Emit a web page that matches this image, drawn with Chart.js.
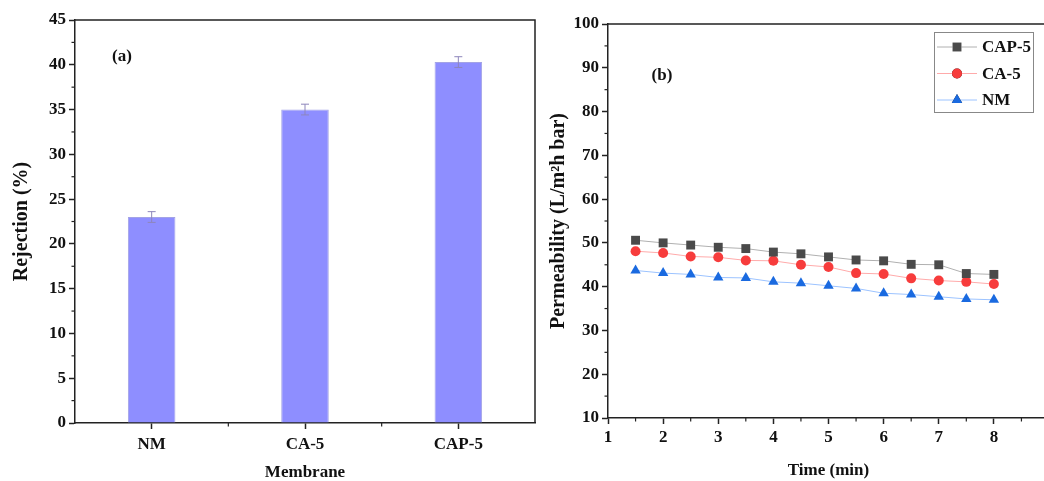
<!DOCTYPE html>
<html>
<head>
<meta charset="utf-8">
<script src="https://cdn.jsdelivr.net/npm/chart.js@4.4.1/dist/chart.umd.min.js"></script>
<style>
  html, body { margin: 0; padding: 0; background: #fff; overflow: hidden; width: 1044px; height: 481px; }
  #left { position: absolute; left: 0; top: 0; }
  #right { position: absolute; left: 545px; top: 0; }
</style>
</head>
<body>
<canvas id="left" width="545" height="481"></canvas>
<canvas id="right" width="530" height="481"></canvas>
<script>
// ---------------- DATA ----------------
const membranes = ["NM", "CA-5", "CAP-5"];
const rejection = [23.0, 35.0, 40.3];
const rejectionErr = [0.6, 0.6, 0.6];

const timeMin = [1.5, 2, 2.5, 3, 3.5, 4, 4.5, 5, 5.5, 6, 6.5, 7, 7.5, 8];
const permCAP5 = [50.6, 50.0, 49.5, 49.0, 48.7, 47.9, 47.5, 46.8, 46.1, 45.9, 45.1, 45.0, 43.0, 42.8];
const permCA5 = [48.1, 47.7, 46.9, 46.7, 46.0, 45.9, 45.0, 44.5, 43.1, 42.9, 41.9, 41.4, 41.1, 40.6];
const permNM = [43.7, 43.1, 42.8, 42.1, 42.0, 41.1, 40.8, 40.2, 39.6, 38.5, 38.2, 37.7, 37.2, 37.0];

const FONT = "'Liberation Serif', 'Times New Roman', serif";
const AXIS = "#222";
const tickFont = { family: FONT, size: 17, weight: "bold" };
const titleFont = { family: FONT, size: 17, weight: "bold", lineHeight: 1 };
const yTitleFont = { family: FONT, size: 20, weight: "bold", lineHeight: 1 };

// ---------------- SHARED PLUGIN: frame, minor ticks, panel label ----------------
const framePlugin = {
    id: "frame",
    afterDraw(chart, args, opts) {
        const { ctx, chartArea: a } = chart;
        ctx.save();
        ctx.strokeStyle = AXIS;
        ctx.lineWidth = 1.5;
        ctx.beginPath();
        ctx.moveTo(a.left, a.top);
        ctx.lineTo(a.right, a.top);
        ctx.lineTo(a.right, a.bottom);
        ctx.stroke();

        // minor ticks
        ctx.lineWidth = 1.2;
        (opts.yMinor || []).forEach(v => {
            const y = chart.scales.y.getPixelForValue(v);
            ctx.beginPath();
            ctx.moveTo(a.left - 3.5, y);
            ctx.lineTo(a.left, y);
            ctx.stroke();
        });
        (opts.xMinor || []).forEach(v => {
            const x = chart.scales.x.getPixelForValue(v);
            ctx.beginPath();
            ctx.moveTo(x, a.bottom);
            ctx.lineTo(x, a.bottom + 3.5);
            ctx.stroke();
        });

        // panel label
        ctx.fillStyle = "#111";
        ctx.font = "bold 17px " + FONT;
        ctx.textAlign = "center";
        ctx.textBaseline = "middle";
        ctx.fillText(opts.label, a.left + opts.labelX, a.top + opts.labelY);
        ctx.restore();
    }
};

// ---------------- ERROR BARS ----------------
const errorBarPlugin = {
    id: "errorBars",
    afterDatasetsDraw(chart) {
        const { ctx } = chart;
        const meta = chart.getDatasetMeta(0);
        const y = chart.scales.y;
        ctx.save();
        ctx.strokeStyle = "#8d86bb";
        ctx.lineWidth = 1;
        meta.data.forEach((bar, i) => {
            const top = y.getPixelForValue(rejection[i] + rejectionErr[i]);
            const bot = y.getPixelForValue(rejection[i] - rejectionErr[i]);
            ctx.beginPath();
            ctx.moveTo(bar.x, top); ctx.lineTo(bar.x, bot);
            ctx.moveTo(bar.x - 4, top); ctx.lineTo(bar.x + 4, top);
            ctx.moveTo(bar.x - 4, bot); ctx.lineTo(bar.x + 4, bot);
            ctx.stroke();
        });
        ctx.restore();
    }
};

// ---------------- LEGEND BOX (line + marker) ----------------
const legendBoxPlugin = {
    id: "legendBox",
    afterDraw(chart) {
        const { ctx, chartArea: a } = chart;
        const x0 = a.right - 115, y0 = a.top + 8, w = 99, h = 80;
        ctx.save();
        ctx.fillStyle = "#fff";
        ctx.fillRect(x0, y0, w, h);
        ctx.strokeStyle = "#888";
        ctx.lineWidth = 1;
        ctx.strokeRect(x0 + 0.5, y0 + 0.5, w, h);
        chart.data.datasets.forEach((ds, i) => {
            const cy = y0 + 15 + i * 26.5;
            ctx.strokeStyle = ds.borderColor;
            ctx.lineWidth = 1;
            ctx.beginPath();
            ctx.moveTo(x0 + 3, cy);
            ctx.lineTo(x0 + 43, cy);
            ctx.stroke();
            Chart.helpers.drawPoint(ctx, {
                pointStyle: ds.pointStyle,
                radius: ds.pointRadius,
                borderWidth: 0
            }, x0 + 23, cy);
            ctx.fillStyle = ds.pointBackgroundColor;
            ctx.fill();
            ctx.fillStyle = "#111";
            ctx.font = "bold 17px " + FONT;
            ctx.textAlign = "left";
            ctx.textBaseline = "middle";
            ctx.fillText(ds.label, x0 + 48, cy + 1);
        });
        ctx.restore();
    }
};

// ===================== (a) REJECTION (BAR) =====================
new Chart(document.getElementById("left"), {
    type: "bar",
    data: {
        labels: membranes,
        datasets: [{
            label: "Rejection",
            data: rejection,
            backgroundColor: "#8e8eff",
            borderColor: "#a3a3e6",
            borderWidth: 1,
            categoryPercentage: 1,
            barPercentage: 0.31
        }]
    },
    options: {
        responsive: false,
        animation: false,
        layout: { padding: { left: 0, right: 10, top: 20, bottom: 0 } },
        plugins: {
            legend: { display: false },
            tooltip: { enabled: false },
            frame: {
                yMinor: [2.5, 7.5, 12.5, 17.5, 22.5, 27.5, 32.5, 37.5, 42.5],
                xMinor: [0.5, 1.5],
                label: "(a)", labelX: 47, labelY: 37
            }
        },
        scales: {
            x: {
                grid: { display: true, drawOnChartArea: false, offset: false, tickLength: 6, color: AXIS, tickWidth: 1.5 },
                border: { color: AXIS, width: 1.5 },
                ticks: { color: "#111", font: tickFont, padding: 5 },
                title: { display: true, text: "Membrane", color: "#111", font: titleFont, padding: { top: 0, bottom: 0 } },
                afterFit(s) { s.height = 58; }
            },
            y: {
                min: 0, max: 45,
                grid: { drawOnChartArea: false, tickLength: 6, color: AXIS, tickWidth: 1.5 },
                border: { color: AXIS, width: 1.5 },
                ticks: { stepSize: 5, color: "#111", font: tickFont, padding: 3 },
                title: { display: true, text: "Rejection (%)", color: "#111", font: yTitleFont, padding: { top: 12, bottom: 0 } },
                afterFit(s) { s.width = 75; }
            }
        }
    },
    plugins: [framePlugin, errorBarPlugin]
});

// ===================== (b) PERMEABILITY (LINE) =====================
function series(values) {
    return values.map((v, i) => ({ x: timeMin[i], y: v }));
}

new Chart(document.getElementById("right"), {
    type: "line",
    data: {
        datasets: [
            {
                label: "CAP-5", data: series(permCAP5),
                borderColor: "#b0b0b0", borderWidth: 1,
                pointStyle: "rect", pointRadius: 6.3, pointBorderWidth: 0,
                pointBackgroundColor: "#4a4a4a"
            },
            {
                label: "CA-5", data: series(permCA5),
                borderColor: "#ffaaaa", borderWidth: 1,
                pointStyle: "circle", pointRadius: 5, pointBorderWidth: 0,
                pointBackgroundColor: "#f73c3c"
            },
            {
                label: "NM", data: series(permNM),
                borderColor: "#9cc3ff", borderWidth: 1,
                pointStyle: "triangle", pointRadius: 6, pointBorderWidth: 0,
                pointBackgroundColor: "#1a6ae0"
            }
        ]
    },
    options: {
        responsive: false,
        animation: false,
        layout: { padding: { left: 0, right: 26, top: 24, bottom: 0 } },
        plugins: {
            legend: { display: false },
            tooltip: { enabled: false },
            frame: {
                yMinor: [15, 25, 35, 45, 55, 65, 75, 85, 95],
                xMinor: [1.5, 2.5, 3.5, 4.5, 5.5, 6.5, 7.5, 8.5],
                label: "(b)", labelX: 54, labelY: 52
            }
        },
        scales: {
            x: {
                type: "linear", min: 1, max: 9,
                grid: { drawOnChartArea: false, tickLength: 6, color: AXIS, tickWidth: 1.5 },
                border: { color: AXIS, width: 1.5 },
                ticks: {
                    stepSize: 1, color: "#111", font: tickFont, padding: 3,
                    callback: v => (v < 9 ? v : "")
                },
                title: { display: true, text: "Time (min)", color: "#111", font: titleFont, padding: { top: 0, bottom: 2 } },
                afterFit(s) { s.height = 63; }
            },
            y: {
                min: 10, max: 100,
                grid: { drawOnChartArea: false, tickLength: 6, color: AXIS, tickWidth: 1.5 },
                border: { color: AXIS, width: 1.5 },
                ticks: { stepSize: 10, color: "#111", font: tickFont, padding: 3 },
                title: { display: true, text: "Permeability (L/m²h bar)", color: "#111", font: yTitleFont, padding: { top: 4, bottom: 0 } },
                afterFit(s) { s.width = 63; }
            }
        }
    },
    plugins: [framePlugin, legendBoxPlugin]
});
</script>
</body>
</html>
